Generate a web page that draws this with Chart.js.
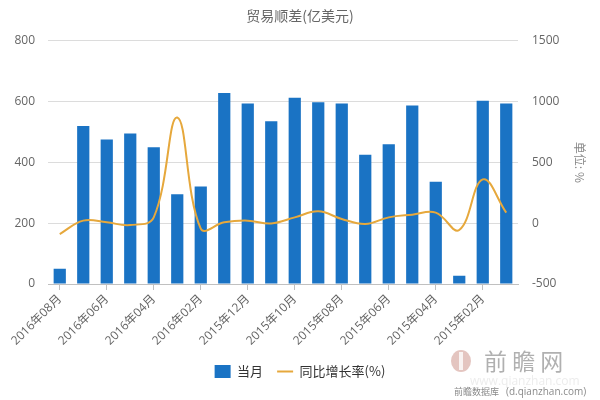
<!DOCTYPE html>
<html>
<head>
<meta charset="utf-8">
<script src="https://cdn.jsdelivr.net/npm/chart.js@4"></script>
<style>
  html, body { margin: 0; padding: 0; background: #fff; }
  #wrap { width: 600px; height: 400px; position: relative; }
</style>
</head>
<body>
<div id="wrap"><canvas id="tradeChart" width="600" height="400"></canvas></div>
<script>
var months = ["2016年08月", "2016年07月", "2016年06月", "2016年05月", "2016年04月", "2016年03月",
  "2016年02月", "2016年01月", "2015年12月", "2015年11月", "2015年10月", "2015年09月",
  "2015年08月", "2015年07月", "2015年06月", "2015年05月", "2015年04月", "2015年03月",
  "2015年02月", "2015年01月"];
var monthVals = [50, 520, 475, 495, 450, 295, 321, 628, 594, 535, 613, 598, 594, 425, 460, 587, 336, 27, 603, 594];
var growthVals = [-89, 21, 7, -15, 48, 869, -45, 7, 21, -2, 48, 98, 35, -7, 48, 70, 87, -56, 360, 87];
var leftTicks = [0, 200, 400, 600, 800];
var rightTicks = [-500, 0, 500, 1000, 1500];

var tickFont = { family: "'Open Sans', 'Noto Sans CJK SC', sans-serif", size: 12 };

// watermark in the bottom right corner
var watermark = {
  id: 'watermark',
  afterDraw: function (chart) {
    var ctx = chart.ctx;
    ctx.save();
    ctx.fillStyle = 'rgba(205,150,140,0.55)';
    ctx.beginPath();
    ctx.ellipse(461, 361, 10, 11, 0, 0, Math.PI * 2);
    ctx.fill();
    ctx.fillStyle = 'rgba(255,255,255,0.8)';
    ctx.fillRect(459, 352, 4, 18);
    ctx.fillStyle = 'rgba(150,150,150,0.75)';
    ctx.font = "23px 'Noto Sans CJK SC'";
    ctx.textBaseline = 'middle';
    ctx.fillText('前 瞻 网', 484, 361);
    ctx.fillStyle = 'rgba(200,200,200,0.35)';
    ctx.font = "12px 'Open Sans'";
    ctx.fillText('www.qianzhan.com', 470, 382);
    ctx.fillStyle = '#8a8a8a';
    ctx.font = "9px 'Noto Sans CJK SC'";
    ctx.fillText('前瞻数据库', 454, 392);
    ctx.font = "10px 'Open Sans'";
    ctx.fillText('(d.qianzhan.com)', 506, 392);
    ctx.restore();
  }
};

var ctx = document.getElementById('tradeChart');
var tradeChart = new Chart(ctx, {
  type: 'bar',
  data: {
    labels: months,
    datasets: [{
      type: 'bar',
      label: '当月',
      data: monthVals,
      backgroundColor: '#1a73c4',
      borderWidth: 0,
      barPercentage: 0.52,
      categoryPercentage: 1,
      yAxisID: 'y',
      pointStyle: 'rect',
      order: 1
    }, {
      type: 'line',
      label: '同比增长率(%)',
      data: growthVals,
      borderColor: '#e6a83c',
      backgroundColor: '#e6a83c',
      borderWidth: 2,
      pointRadius: 0,
      tension: 0.4,
      yAxisID: 'y1',
      pointStyle: 'line',
      order: 0
    }]
  },
  options: {
    responsive: false,
    animation: false,
    layout: { padding: { top: 0, bottom: 12, left: 0, right: 0 } },
    plugins: {
      title: {
        display: true,
        text: '贸易顺差(亿美元)',
        color: '#666',
        font: { family: "'Noto Sans CJK SC', sans-serif", size: 14, weight: 'normal' },
        padding: { top: 7, bottom: 17 }
      },
      legend: {
        position: 'bottom',
        labels: {
          usePointStyle: true,
          pointStyleWidth: 16,
          boxHeight: 14,
          padding: 14,
          color: '#333',
          font: { family: "'Noto Sans CJK SC', sans-serif", size: 13 },
          sort: function (a, b) { return a.datasetIndex - b.datasetIndex; }
        }
      },
      tooltip: { enabled: false }
    },
    scales: {
      x: {
        offset: true,
        grid: {
          offset: false,
          drawOnChartArea: false,
          tickLength: 6,
          color: function (c) { return c.index % 2 === 0 ? '#c0c0c0' : 'rgba(0,0,0,0)'; }
        },
        border: { color: '#c0c0c0' },
        ticks: {
          autoSkip: false,
          minRotation: 45,
          maxRotation: 45,
          color: '#666',
          font: tickFont,
          padding: 2,
          callback: function (v, i) { return i % 2 === 0 ? months[i] : ''; }
        },
        afterFit: function (scale) { scale.height = 67; }
      },
      y: {
        position: 'left',
        min: 0,
        max: 800,
        afterBuildTicks: function (scale) {
          scale.ticks = leftTicks.map(function (v) { return { value: v }; });
        },
        grid: { color: '#dcdcdc', drawTicks: false },
        border: { display: false },
        ticks: { color: '#666', font: tickFont, padding: 13 },
        afterFit: function (scale) { scale.width = 48; }
      },
      y1: {
        position: 'right',
        min: -500,
        max: 1500,
        afterBuildTicks: function (scale) {
          scale.ticks = rightTicks.map(function (v) { return { value: v }; });
        },
        grid: { drawOnChartArea: false, drawTicks: false },
        border: { display: false },
        ticks: {
          color: '#666',
          font: tickFont,
          padding: 14,
          callback: function (v) { return String(v); }
        },
        title: {
          display: true,
          text: '单位: %',
          color: '#888',
          font: { family: "'Noto Sans CJK SC', sans-serif", size: 12 },
          padding: { top: 13, bottom: 13 }
        },
        afterFit: function (scale) { scale.width = 82; }
      }
    }
  },
  plugins: [watermark]
});
</script>
</body>
</html>
